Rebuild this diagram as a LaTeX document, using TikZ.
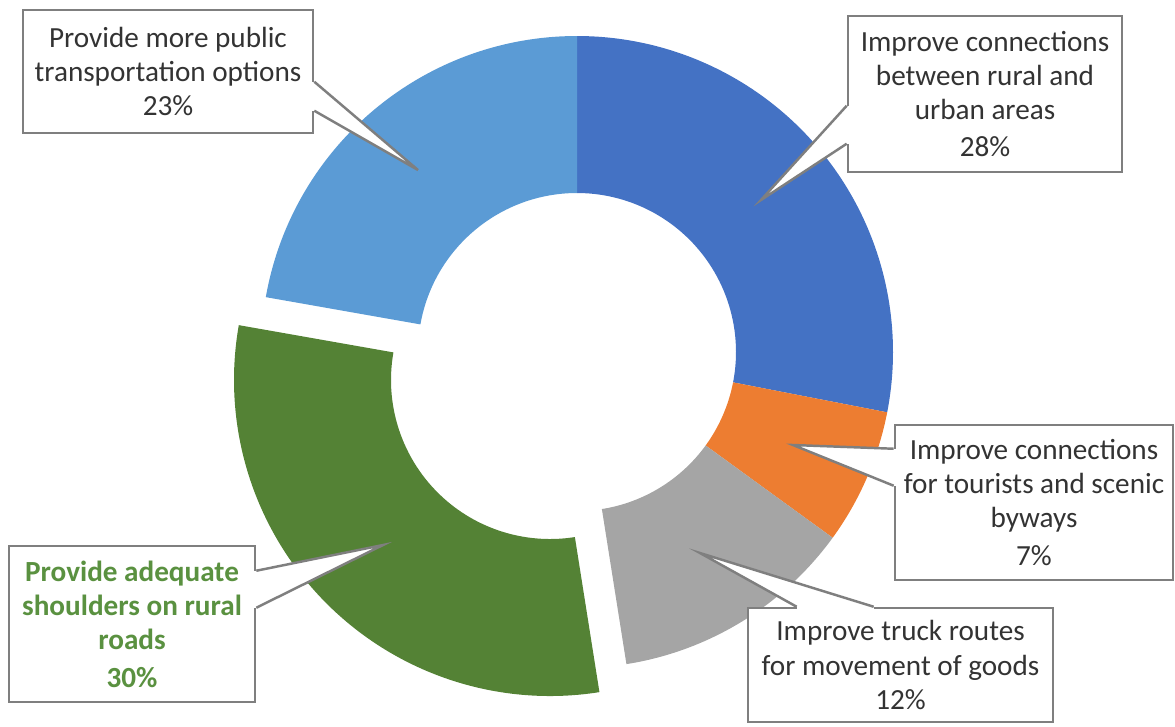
\documentclass[tikz,border=0pt]{standalone}
\usepackage{fontspec}
\setmainfont{Carlito}
\usetikzlibrary{calc}

\definecolor{segdark}{HTML}{4472C4}
\definecolor{seglight}{HTML}{5B9BD5}
\definecolor{segorange}{HTML}{ED7D31}
\definecolor{seggray}{HTML}{A5A5A5}
\definecolor{seggreen}{HTML}{548235}
\definecolor{labelgreen}{HTML}{5A9140}
\definecolor{boxgray}{HTML}{7F7F7F}

\tikzset{
  callbox/.style={draw=boxgray, line width=0.7pt, fill=white, align=center,
    inner sep=0pt, text=black!80, font=\fontsize{8.3}{9.7}\selectfont},
  boxline/.style={draw=boxgray, line width=0.7pt, line join=miter}
}

% ring sector: colour, start angle, end angle, centre
\newcommand{\ringpart}[4]{%
  \fill[#1] ($(#4)+(#2:316)$) arc[start angle=#2, end angle=#3, radius=316]
    -- ($(#4)+(#3:159)$) arc[start angle=#3, end angle=#2, radius=159] -- cycle;}

% callout wedge: base a, base b, tip
\newcommand{\wedgeto}[3]{%
  \fill[white] (#1) -- (#3) -- (#2) -- cycle;
  \draw[white, line width=1.4pt] (#1) -- (#2);
  \draw[boxline] (#1) -- (#3) -- (#2);}

\begin{document}
\begin{tikzpicture}[x=0.01cm, y=-0.01cm]
\useasboundingbox (0,0) rectangle (1175,726);

\coordinate (ctr) at (577,352);
\coordinate (gctr) at (550,380);

\ringpart{segdark}{-90}{11}{ctr}
\ringpart{segorange}{11}{36}{ctr}
\ringpart{seggray}{36}{81}{ctr}
\ringpart{seggreen}{81}{190}{gctr}
\ringpart{seglight}{190}{270}{ctr}

\node[callbox, minimum width=2.90cm, minimum height=1.23cm] (lbox) at (168,71.5)
  {Provide more public\\transportation options\\23\%};
\node[callbox, minimum width=2.74cm, minimum height=1.56cm] (dbox) at (985,94)
  {Improve connections\\between rural and\\urban areas\\[1pt]28\%};
\node[callbox, minimum width=2.78cm, minimum height=1.55cm] (obox) at (1034,502.5)
  {Improve connections\\for tourists and scenic\\byways\\[1pt]7\%};
\node[callbox, minimum width=3.05cm, minimum height=1.14cm] (gbox) at (900.5,665)
  {Improve truck routes\\for movement of goods\\12\%};
\node[callbox, text=labelgreen, font=\fontsize{8.3}{9.7}\selectfont\bfseries,
  minimum width=2.46cm, minimum height=1.56cm] (sbox) at (132,624)
  {Provide adequate\\shoulders on rural\\roads\\[1pt]30\%};

\coordinate (ltip) at (418,170);
\coordinate (dtip) at (761,200);
\coordinate (otip) at (793,445);
\coordinate (gtip) at (700,553);
\coordinate (stip) at (383,545);

\coordinate (la) at ($(lbox.north east)+(0,73)$);
\coordinate (lb) at ($(lbox.north east)+(0,102)$);
\coordinate (da) at ($(dbox.north west)+(0,91)$);
\coordinate (db) at ($(dbox.north west)+(0,129)$);
\coordinate (oa) at ($(obox.north west)+(0,25)$);
\coordinate (ob) at ($(obox.north west)+(0,62)$);
\coordinate (ga) at ($(gbox.north west)+(50,0)$);
\coordinate (gb) at ($(gbox.north west)+(127,0)$);
\coordinate (sa) at ($(sbox.north east)+(0,26)$);
\coordinate (sb) at ($(sbox.north east)+(0,63)$);

\wedgeto{la}{lb}{ltip}
\wedgeto{da}{db}{dtip}
\wedgeto{oa}{ob}{otip}
\wedgeto{ga}{gb}{gtip}
\wedgeto{sa}{sb}{stip}

\end{tikzpicture}
\end{document}
